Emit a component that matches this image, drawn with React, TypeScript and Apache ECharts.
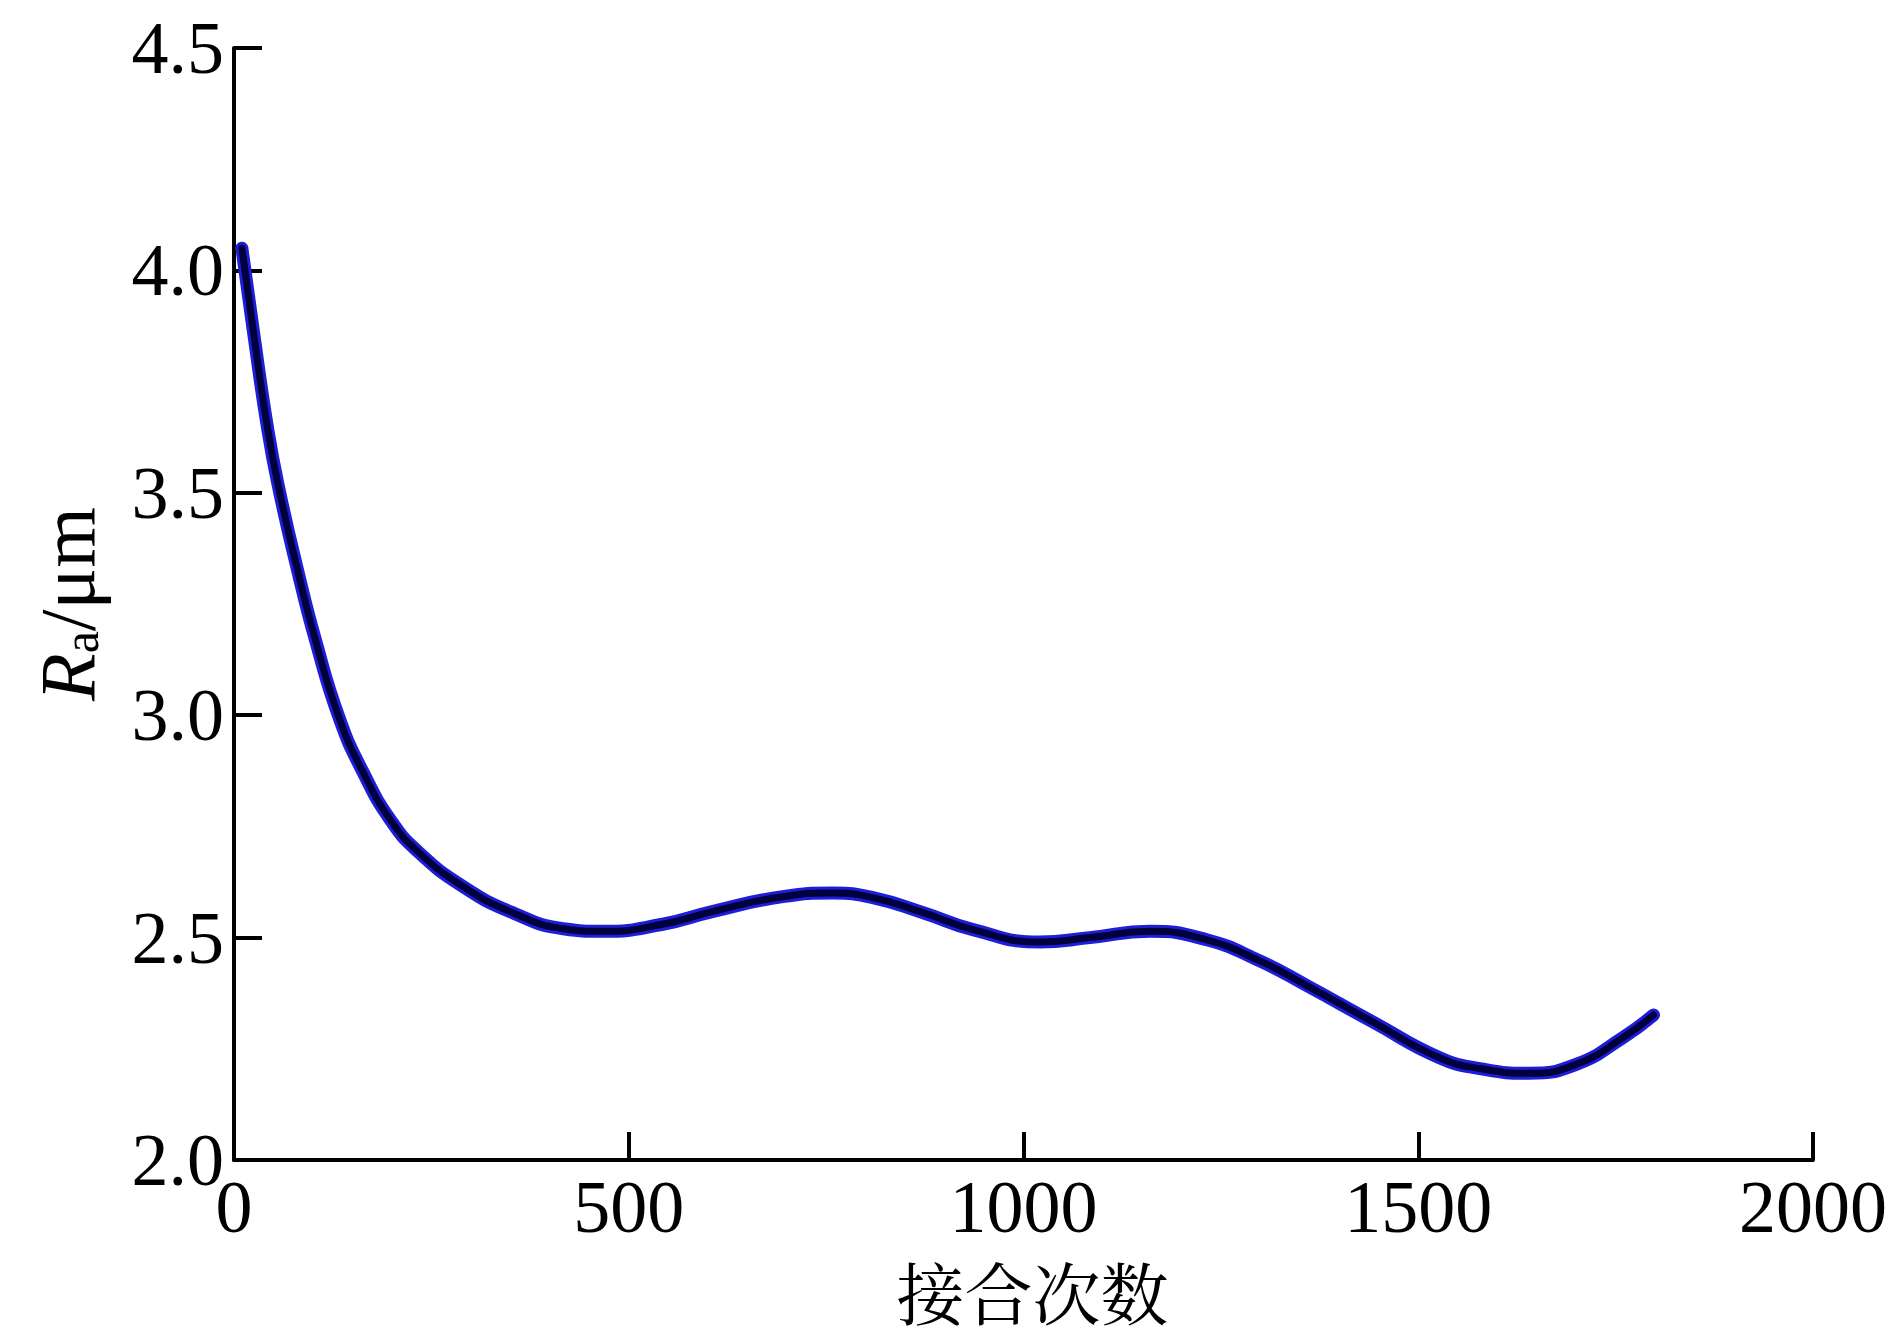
import React, { useEffect, useRef } from "react";
import * as echarts from "echarts";

const xTicks = [0, 500, 1000, 1500, 2000];
const yTicks = [2.0, 2.5, 3.0, 3.5, 4.0, 4.5];
const cycles = [10, 24, 43, 58, 80, 103, 134, 164, 198, 232, 290, 353, 417, 467, 543, 607, 695, 759, 809, 873, 936, 1021, 1084, 1160, 1232, 1300, 1359, 1443, 1527, 1580, 1640, 1700, 1759, 1798];
const raValues = [4.05, 3.87, 3.64, 3.5, 3.33, 3.17, 2.99, 2.87, 2.765, 2.695, 2.615, 2.556, 2.52, 2.514, 2.53, 2.559, 2.592, 2.6, 2.59, 2.556, 2.518, 2.49, 2.5, 2.514, 2.495, 2.447, 2.392, 2.31, 2.23, 2.205, 2.195, 2.215, 2.275, 2.326];
const xName = "接合次数";

const serif = "'Liberation Serif', 'Times New Roman', serif";
const cjk = "'Noto Serif CJK SC', 'Noto Sans CJK SC', serif";

export default function App() {
  const ref = useRef<HTMLDivElement>(null);
  useEffect(() => {
    document.body.style.margin = "0";
    const chart = echarts.init(ref.current!, null, { renderer: "svg" });
    const data = cycles.map((c, i) => [c, raValues[i]]);
    chart.setOption({
      animation: false,
      backgroundColor: "#ffffff",
      grid: { left: 234, right: 88, top: 48, bottom: 177 },
      xAxis: {
        type: "value",
        min: xTicks[0],
        max: xTicks[xTicks.length - 1],
        interval: 500,
        name: xName,
        nameLocation: "middle",
        nameGap: 96,
        nameTextStyle: { fontFamily: cjk, fontSize: 68, lineHeight: 68, color: "#000", padding: [0, 0, 0, 18] },
        axisLine: { show: true, onZero: false, lineStyle: { color: "#000", width: 4 } },
        axisTick: { show: true, inside: true, length: 28, lineStyle: { color: "#000", width: 4 } },
        axisLabel: {
          fontFamily: serif,
          fontSize: 74,
          lineHeight: 74,
          color: "#000",
          margin: 10,
          formatter: (v: number) => String(v),
        },
        splitLine: { show: false },
      },
      yAxis: {
        type: "value",
        min: yTicks[0],
        max: yTicks[yTicks.length - 1],
        interval: 0.5,
        name: "{i|R}{s|a}{n|/μm}",
        nameLocation: "middle",
        nameRotate: 90,
        nameGap: 128,
        nameTextStyle: {
          color: "#000",
          padding: [0, 0, 0, 0],
          rich: {
            i: { fontFamily: serif, fontStyle: "italic", fontSize: 78, color: "#000", lineHeight: 90, verticalAlign: "bottom" },
            s: { fontFamily: serif, fontSize: 50, color: "#000", lineHeight: 60, verticalAlign: "bottom" },
            n: { fontFamily: serif, fontSize: 78, color: "#000", lineHeight: 90, verticalAlign: "bottom" },
          },
        },
        axisLine: { show: true, onZero: false, lineStyle: { color: "#000", width: 4 } },
        axisTick: { show: true, inside: true, length: 28, lineStyle: { color: "#000", width: 4 } },
        axisLabel: {
          fontFamily: serif,
          fontSize: 74,
          color: "#000",
          margin: 10,
          padding: [14, 0, 0, 0],
          formatter: (v: number) => v.toFixed(1),
        },
        splitLine: { show: false },
      },
      series: [
        {
          type: "line",
          data,
          smooth: 0.5,
          showSymbol: false,
          symbol: "none",
          lineStyle: { color: "#1e1ed8", width: 13, cap: "round", join: "round" },
          z: 2,
        },
        {
          type: "line",
          data,
          smooth: 0.5,
          showSymbol: false,
          symbol: "none",
          lineStyle: { color: "#00003c", width: 7, cap: "round", join: "round" },
          z: 3,
        },
      ],
    });
    return () => chart.dispose();
  }, []);
  return <div ref={ref} style={{ width: 1901, height: 1337 }} />;
}
